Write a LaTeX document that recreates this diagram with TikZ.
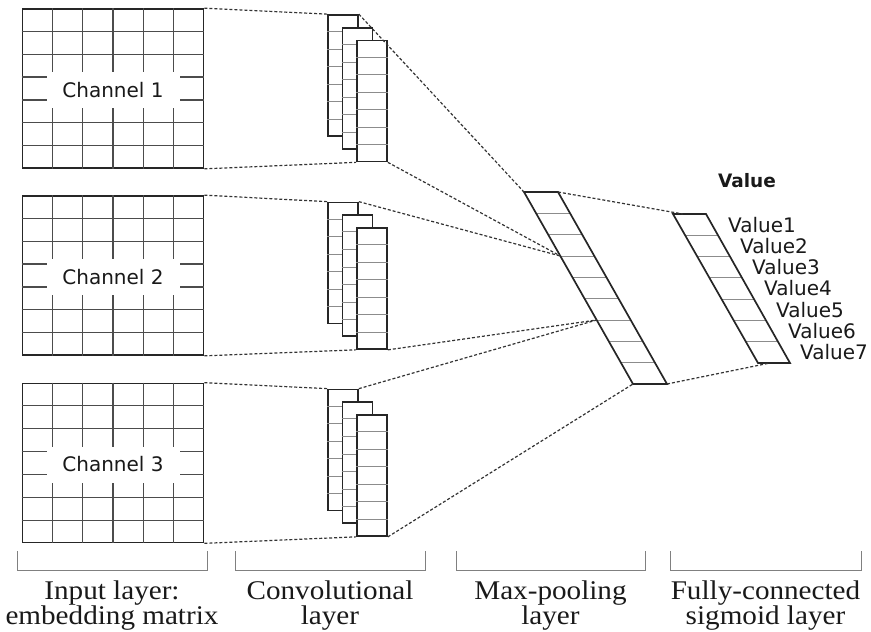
\documentclass[tikz,border=0pt]{standalone}
\usepackage{fontspec}
\setmainfont[FakeStretch=1.08]{Liberation Serif}
\newfontfamily\labelfont{DejaVu Sans}
\usetikzlibrary{calc}

\begin{document}
\begin{tikzpicture}[x=1pt,y=-1pt,
  frame/.style={draw=black!85,line width=1.7pt},
  gridline/.style={draw=black!70,line width=1.1pt},
  cellline/.style={draw=black!45,line width=0.9pt},
  gridbox/.style={frame,minimum width=181pt,minimum height=159pt,inner sep=0pt},
  chanlabel/.style={fill=white,inner sep=0pt,minimum width=133pt,minimum height=36pt,
    font=\labelfont\fontsize{20}{24}\selectfont,text=black!90},
  convbox/.style={frame,fill=white,minimum width=30pt,minimum height=121pt,inner sep=0pt},
  link/.style={draw=black!80,line width=1.2pt,dash pattern=on 3pt off 2pt},
  vallabel/.style={anchor=west,inner sep=0pt,font=\labelfont\fontsize{20}{24}\selectfont,text=black!90},
  bracket/.style={draw=black!50,line width=1pt},
  layerlabel/.style={anchor=north,inner sep=0pt,align=center,
    font=\fontsize{27}{25}\selectfont,text=black!90}]

\useasboundingbox (0,0) rectangle (871,632);

% ---------- input layer: three 6x7 embedding grids ----------
\foreach \n/\y in {1/88.5,2/275.5,3/463}{
  \node[gridbox] (g\n) at (113,\y) {};
  \foreach \i in {1,...,5}
    \draw[gridline] ($(g\n.north west)!\i/6!(g\n.north east)$) -- ($(g\n.south west)!\i/6!(g\n.south east)$);
  \foreach \j in {1,...,6}
    \draw[gridline] ($(g\n.north west)!\j/7!(g\n.south west)$) -- ($(g\n.north east)!\j/7!(g\n.south east)$);
  \node[chanlabel] (t\n) at ($(g\n.center)+(0,1.5)$) {Channel \n};
}

% ---------- convolutional layer: three stacked feature maps per channel ----------
\foreach \n/\y in {1/75.5,2/263,3/450}{
  \node[convbox] (c\n a) at (343,\y) {};
  \foreach \j in {1,...,6}
    \draw[cellline] ($(c\n a.north west)!\j/7!(c\n a.south west)$) -- ($(c\n a.north east)!\j/7!(c\n a.south east)$);
  \node[convbox] (c\n b) at ($(c\n a.center)+(14.5,12.75)$) {};
  \foreach \j in {1,...,6}
    \draw[cellline] ($(c\n b.north west)!\j/7!(c\n b.south west)$) -- ($(c\n b.north east)!\j/7!(c\n b.south east)$);
  \node[convbox] (c\n c) at ($(c\n a.center)+(29,25.5)$) {};
  \foreach \j in {1,...,6}
    \draw[cellline] ($(c\n c.north west)!\j/7!(c\n c.south west)$) -- ($(c\n c.north east)!\j/7!(c\n c.south east)$);
}

% ---------- max-pooling layer: slanted column of 9 cells ----------
\coordinate (mp-tl) at (524,192);
\coordinate (mp-tr) at (558,192);
\coordinate (mp-bl) at (633,384);
\coordinate (mp-br) at (667,384);
\foreach \j in {1,...,8}
  \draw[cellline] ($(mp-tl)!\j/9!(mp-bl)$) -- ($(mp-tr)!\j/9!(mp-br)$);
\draw[frame] (mp-tl) -- (mp-tr) -- (mp-br) -- (mp-bl) -- cycle;
\coordinate (mp-l3) at ($(mp-tl)!3/9!(mp-bl)$);
\coordinate (mp-l6) at ($(mp-tl)!6/9!(mp-bl)$);

% ---------- fully-connected layer: slanted column of 7 cells ----------
\coordinate (fc-tl) at (673,214);
\coordinate (fc-tr) at (706,214);
\coordinate (fc-bl) at (758,363);
\coordinate (fc-br) at (790,363);
\foreach \j in {1,...,6}
  \draw[cellline] ($(fc-tl)!\j/7!(fc-bl)$) -- ($(fc-tr)!\j/7!(fc-br)$);
\draw[frame] (fc-tl) -- (fc-tr) -- (fc-br) -- (fc-bl) -- cycle;
\coordinate (fc-t) at ($(fc-tl)!0.3!(fc-tr)$);
\coordinate (fc-b) at ($(fc-bl)!0.37!(fc-br)$);

% ---------- output labels ----------
\node[inner sep=0pt,font=\labelfont\bfseries\fontsize{18.5}{22}\selectfont,text=black!90] (vhead) at (747,181) {Value};
\foreach \i in {1,...,7}
  \node[vallabel] (v\i) at ($($(fc-tr)!{(\i-0.5)/7}!(fc-br)$)+(16,0)$) {Value\i};

% ---------- dashed connections ----------
\foreach \n in {1,2,3}{
  \draw[link] (g\n.north east) -- (c\n a.north west);
  \draw[link] (g\n.south east) -- (c\n c.south west);
}
\draw[link] (c1a.north east) -- (mp-tl);
\draw[link] (c1c.south east) -- (mp-l3);
\draw[link] (c2a.north east) -- (mp-l3);
\draw[link] (c2c.south east) -- (mp-l6);
\draw[link] (c3a.north east) -- (mp-l6);
\draw[link] (c3c.south east) -- (mp-bl);
\draw[link] (mp-tr) -- (fc-t);
\draw[link] (mp-br) -- (fc-b);

% ---------- layer brackets and captions ----------
\foreach \k/\a/\b in {1/17/207,2/235/425,3/456/645,4/670/861}{
  \coordinate (bl\k) at (\a,551);
  \coordinate (br\k) at (\b,551);
  \draw[bracket] (bl\k) -- ++(0,19) -| (br\k);
}
\node[layerlabel] (L1) at ($(bl1)!0.5!(br1)+(0,30)$) {Input layer:\\embedding matrix};
\node[layerlabel] (L2) at ($(bl2)!0.5!(br2)+(0,30)$) {Convolutional\\layer};
\node[layerlabel] (L3) at ($(bl3)!0.5!(br3)+(0,30)$) {Max-pooling\\layer};
\node[layerlabel] (L4) at ($(bl4)!0.5!(br4)+(0,30)$) {Fully-connected\\sigmoid layer};

\end{tikzpicture}
\end{document}
